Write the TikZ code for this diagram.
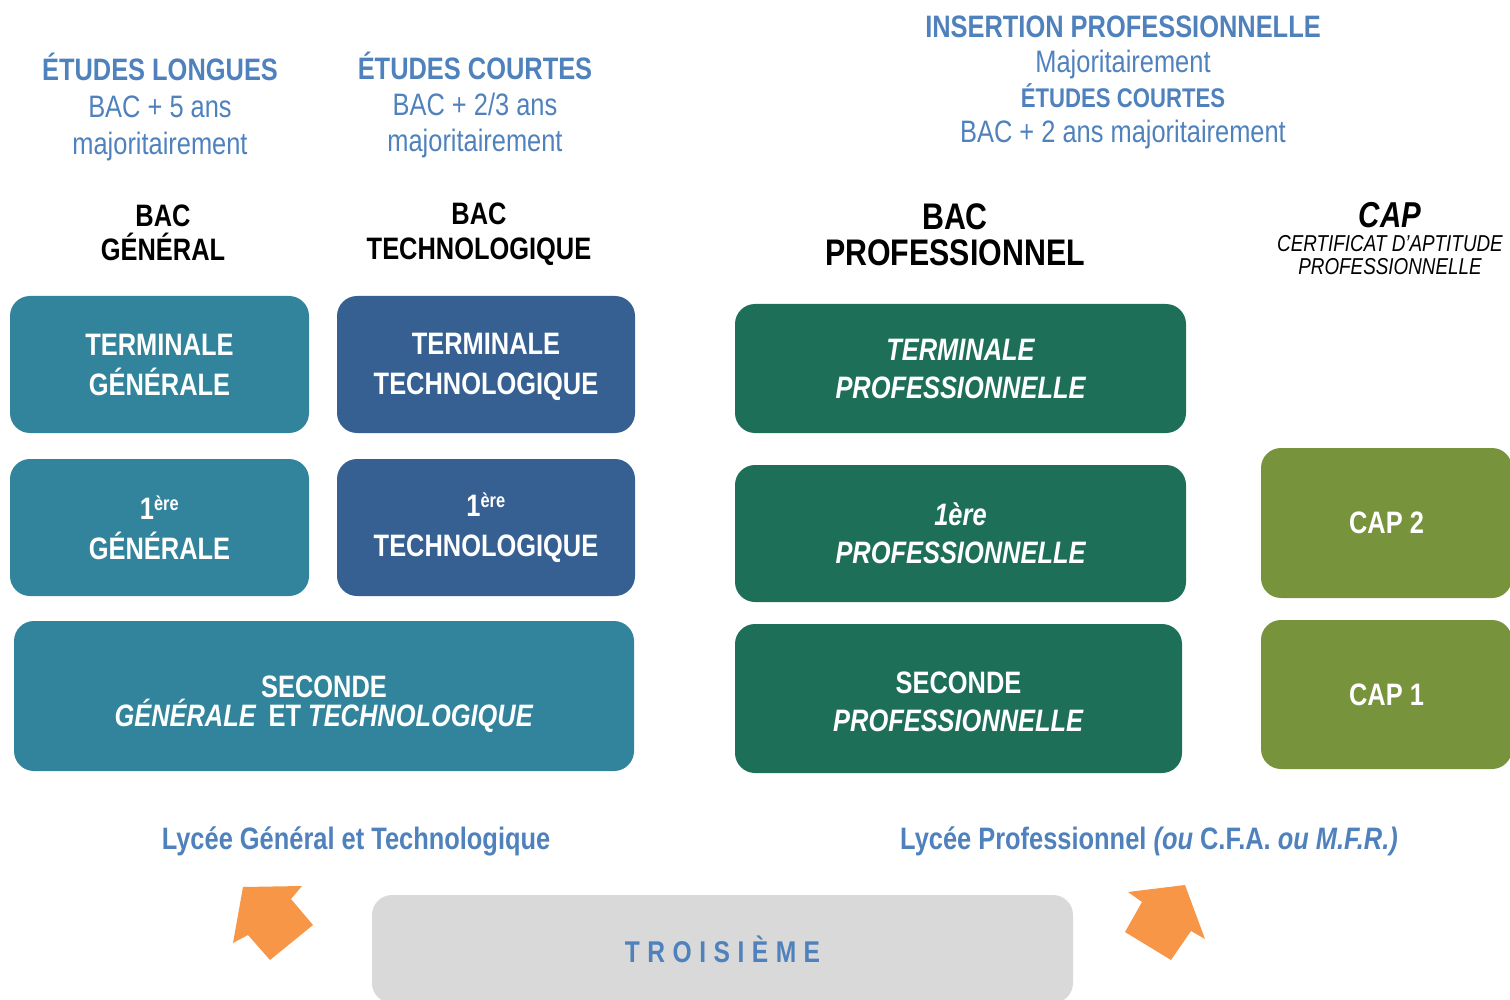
\documentclass[tikz,border=0pt]{standalone}
\usepackage{fontspec}
\setmainfont{Liberation Sans}[FakeStretch=0.82]
\definecolor{gtblue}{HTML}{31849B}
\definecolor{techblue}{HTML}{366092}
\definecolor{progreen}{HTML}{1E6F58}
\definecolor{capgreen}{HTML}{77933C}
\definecolor{infoblue}{HTML}{4F81BD}
\definecolor{arrorange}{HTML}{F79646}
\definecolor{thirdgray}{HTML}{D9D9D9}
\begin{document}
\begin{tikzpicture}[x=1pt,y=-1pt]
        \tikzstyle{level}=[rounded corners=20pt,text=white,align=center,inner sep=0pt,font=\bfseries\fontsize{31}{40}\selectfont]
        \tikzstyle{levtext}=[text=white,align=center,inner sep=0pt]
        \tikzstyle{info}=[text=infoblue,align=center,inner sep=0pt]
        \tikzstyle{bac}=[text=black,align=center,inner sep=0pt]
        \useasboundingbox (0,0) rectangle (1510,1000);
        \clip (0,0) rectangle (1510,1000);
       \begin{scope}
         % lycee general et technologique
         \node [info,font=\fontsize{31}{37}\selectfont] (longues) at (160,107) {\textbf{ÉTUDES LONGUES}\\BAC + 5 ans\\majoritairement};
         \node [info,font=\fontsize{31}{36}\selectfont] (courtes) at (475,104.5) {\textbf{ÉTUDES COURTES}\\BAC + 2/3 ans\\majoritairement};
         \node [bac,font=\bfseries\fontsize{31}{34}\selectfont] (bacg) at (163,233) {BAC\\GÉNÉRAL};
         \node [bac,font=\bfseries\fontsize{31}{35}\selectfont] (bact) at (479,234) {BAC\\TECHNOLOGIQUE};
         \node [level,fill=gtblue,minimum width=299,minimum height=137] (tg) at (159.5,364.5) {TERMINALE\\GÉNÉRALE};
         \node [level,fill=techblue,minimum width=298,minimum height=137] (tt) at (486,364.5) {};
         \node [levtext,font=\bfseries\fontsize{31}{40}\selectfont] (tttext) at (tt.center) [yshift=-2pt] {TERMINALE\\TECHNOLOGIQUE};
         \node [level,fill=gtblue,minimum width=299,minimum height=137] (pg) at (159.5,527.5) {1\textsuperscript{\fontsize{20}{20}\selectfont ère}\\GÉNÉRALE};
         \node [level,fill=techblue,minimum width=298,minimum height=137] (pt) at (486,527.5) {1\textsuperscript{\fontsize{20}{20}\selectfont ère}\\TECHNOLOGIQUE};
         \node [level,fill=gtblue,minimum width=620,minimum height=150] (sgt) at (324,696) {};
         \node [levtext,font=\bfseries\fontsize{31}{29}\selectfont] (sgttext) at (sgt.center) [yshift=-8pt] {SECONDE\\\textit{GÉNÉRALE}\, ET \textit{TECHNOLOGIQUE}};
         \node [info,font=\bfseries\fontsize{31}{36}\selectfont] (lgt) at (356,841) {Lycée Général et Technologique};
       \end{scope}
       \begin{scope}
         % lycee professionnel
         \node [info,font=\fontsize{31}{35}\selectfont] (insertion) at (1123,82) {\textbf{INSERTION PROFESSIONNELLE}\\Majoritairement\\\textbf{\fontsize{27}{35}\selectfont ÉTUDES COURTES}\\BAC + 2 ans majoritairement};
         \node [bac,font=\bfseries\fontsize{37}{36}\selectfont] (bacp) at (955,234.5) {BAC\\PROFESSIONNEL};
         \node [bac,font=\bfseries\itshape\fontsize{36}{36}\selectfont] (cap) at (1390,215) {CAP};
         \node [bac,font=\itshape\fontsize{23}{23}\selectfont] (certif) at (1390,255) {CERTIFICAT D'APTITUDE\\PROFESSIONNELLE};
         \node [level,fill=progreen,minimum width=451,minimum height=129,font=\bfseries\itshape\fontsize{31}{38}\selectfont] (tp) at (960.5,368.5) {TERMINALE\\PROFESSIONNELLE};
         \node [level,fill=progreen,minimum width=451,minimum height=137,font=\bfseries\itshape\fontsize{31}{38}\selectfont] (pp) at (960.5,533.5) {1ère\\PROFESSIONNELLE};
         \node [level,fill=progreen,minimum width=447,minimum height=149] (sp) at (958.5,698.5) {};
         \node [levtext,font=\bfseries\fontsize{31}{38}\selectfont] (sptext) at (sp.center) [yshift=-3pt] {SECONDE\\\textit{PROFESSIONNELLE}};
         \node [level,fill=capgreen,minimum width=251,minimum height=150] (cap2) at (1386.5,523) {CAP 2};
         \node [level,fill=capgreen,minimum width=251,minimum height=149] (cap1) at (1386.5,694.5) {CAP 1};
         \node [info,font=\bfseries\fontsize{31}{36}\selectfont] (lp) at (1149,841) {Lycée Professionnel \textit{(ou} C.F.A. \textit{ou M.F.R.)}};
       \end{scope}
       \begin{scope}
         % troisieme et orientation
         \node [level,fill=thirdgray,text=infoblue,minimum width=701,minimum height=108,font=\bfseries\fontsize{30}{36}\selectfont\addfontfeature{LetterSpace=25}] (troisieme) at (722.5,949) {TROISIÈME};
         \fill [arrorange] (302,886) -- (291,899) -- (313,925) -- (270,960) -- (248,935) -- (233,943) -- (243,887) -- cycle;
         \fill [arrorange] (1128,892) -- (1185,885) -- (1205,939) -- (1191,931) -- (1171,960) -- (1125,932) -- (1142,902) -- cycle;
       \end{scope}
\end{tikzpicture}
\end{document}
